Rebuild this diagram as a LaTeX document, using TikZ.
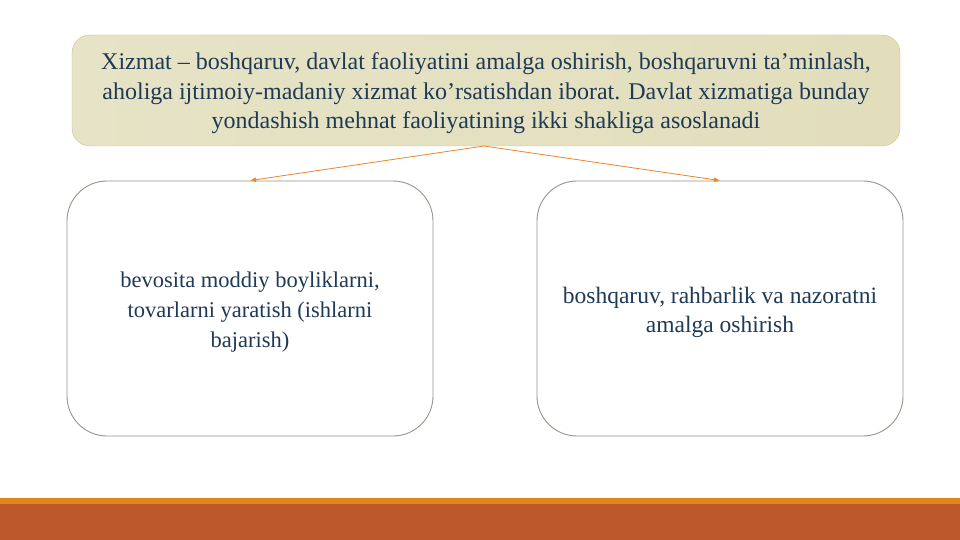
\documentclass[tikz,border=0pt]{standalone}
\usepackage{fontspec}
\setmainfont{Liberation Serif}
\usetikzlibrary{positioning,arrows.meta}
\definecolor{txtblue}{HTML}{1F3A55}
\definecolor{olive}{HTML}{C9C38E}
\definecolor{boxfill}{HTML}{E2DEBC}
\definecolor{grayline}{HTML}{96968A}
\definecolor{arrorange}{HTML}{E8862A}
\definecolor{band}{HTML}{E0861A}
\definecolor{rust}{HTML}{BC582C}
\tikzset{
  topbox/.style={draw=olive,rounded corners=18pt,left color=boxfill!85!white,right color=boxfill,
    minimum width=828pt,minimum height=111pt},
  leafbox/.style={draw=grayline,line width=0.9pt,rounded corners=40pt,fill=white,
    minimum width=366pt,minimum height=255pt},
  boxtext/.style={align=center,text=txtblue,inner sep=0pt},
  link/.style={-{Latex[length=6pt,width=5pt]},draw=arrorange,line width=0.8pt}
}
\begin{document}
\begin{tikzpicture}[x=1pt,y=-1pt]
\useasboundingbox (0,0) rectangle (960,540);
\fill[white] (0,0) rectangle (960,540);
\fill[band] (0,498) rectangle (960,504);
\fill[rust] (0,504) rectangle (960,540);
% boxes
\node[topbox] (m) at (486,90.5) {};
\node[leafbox] (a) at (250,308.5) {};
\node[leafbox] (b) at (720,308.5) {};
% texts
\node[boxtext,font=\fontsize{24}{29.5}\selectfont] (mtext) at ([yshift=-3pt]m.center) {Xizmat – boshqaruv, davlat faoliyatini amalga oshirish, boshqaruvni ta’minlash,\\
  aholiga ijtimoiy-madaniy xizmat ko’rsatishdan iborat. Davlat xizmatiga bunday\\
  yondashish mehnat faoliyatining ikki shakliga asoslanadi};
\node[boxtext,font=\fontsize{22.5}{30}\selectfont] (atext) at ([yshift=-4pt]a.center) {bevosita moddiy boyliklarni,\\ tovarlarni yaratish (ishlarni\\ bajarish)};
\node[boxtext,font=\fontsize{23.5}{28.5}\selectfont] (btext) at ([yshift=-4pt]b.center) {boshqaruv, rahbarlik va nazoratni\\ amalga oshirish};
\coordinate (src) at (484,146);
\draw[link] (src) -- (a.north);
\draw[link] (src) -- (b.north);
\end{tikzpicture}
\end{document}
